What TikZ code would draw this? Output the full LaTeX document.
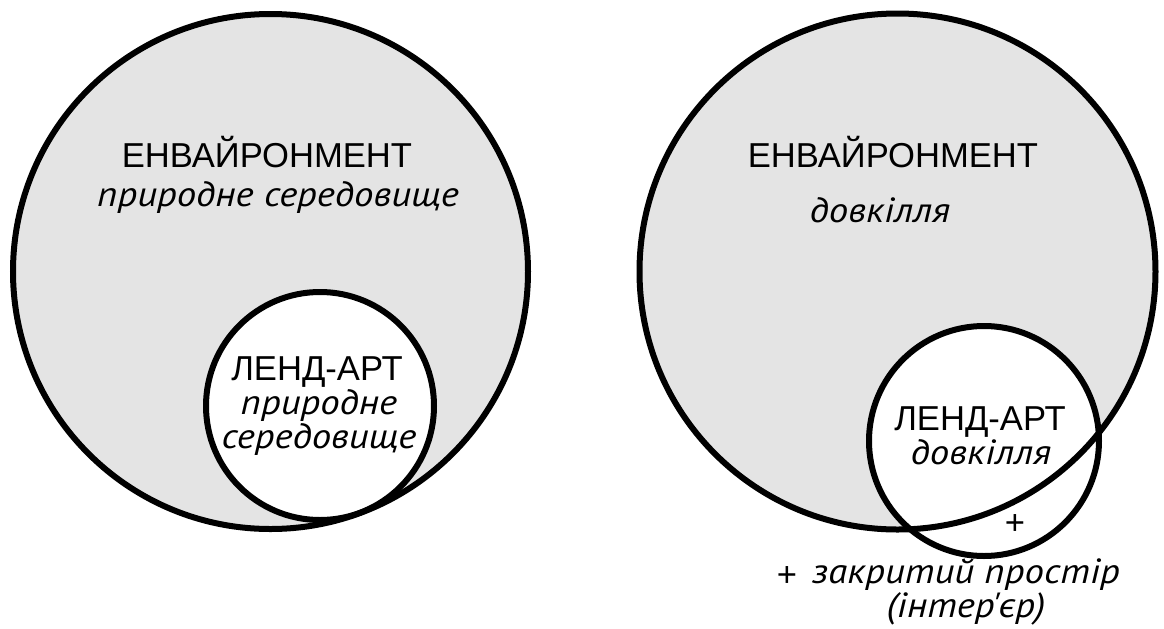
\documentclass[tikz,border=0pt]{standalone}
\usepackage{fontspec}
\setmainfont{Liberation Sans}
\newfontfamily\notefont{PT Sans}[ItalicFeatures={FakeStretch=1.11}]
\definecolor{envgray}{HTML}{E4E4E4}
\begin{document}
\begin{tikzpicture}[x=0.5pt,y=-0.5pt,
  ring/.style={draw=black,line width=3pt},
  caps/.style={font=\fontsize{17.3}{17}\selectfont,anchor=base,inner sep=0pt},
  note/.style={font=\notefont\itshape\fontsize{17.5}{14.2}\selectfont,anchor=base,inner sep=0pt,align=center}]
\useasboundingbox (0,0) rectangle (1164,628);
\fill[white] (0,0) rectangle (1164,628);

% ---- left: land art inside the natural environment
\coordinate (envL) at (270.5,271.5);
\coordinate (artL) at (320,406);
\fill[envgray] (envL) circle[radius=128.75pt];
\fill[white] (artL) circle[radius=57pt];
\draw[ring] (envL) circle[radius=128.75pt];
\draw[ring] (artL) circle[radius=57pt];

\node[caps] (envLtitle) at (267,167) {ЕНВАЙРОНМЕНТ};
\node[note] (envLsub) at (278,206) {природне середовище};
\node[caps] (artLtitle) at (317,380) {ЛЕНД-АРТ};
\node[note,anchor=north] (artLsub) at (319,389) {природне\\середовище};

% ---- right: land art reaching beyond the environment
\coordinate (envR) at (897.5,271.5);
\coordinate (artR) at (984,441);
\fill[envgray] (envR) circle[radius=129pt];
\fill[white] (artR) circle[radius=57.5pt];
\draw[ring] (envR) circle[radius=129pt];
\draw[ring] (artR) circle[radius=57.5pt];

\node[caps] (envRtitle) at (893,167) {ЕНВАЙРОНМЕНТ};
\node[note] (envRsub) at (880,222) {довкілля};
\node[caps] (artRtitle) at (980,430) {ЛЕНД-АРТ};
\node[note] (artRsub) at (981,464) {довкілля};
\node[caps] (plusIn) at (1015,534) {+};
\node[caps] (plusOut) at (787,586) {+};
\node[note,anchor=south] (closed) at (966,626) {закритий простір\\(інтер'єр)};
\end{tikzpicture}
\end{document}
